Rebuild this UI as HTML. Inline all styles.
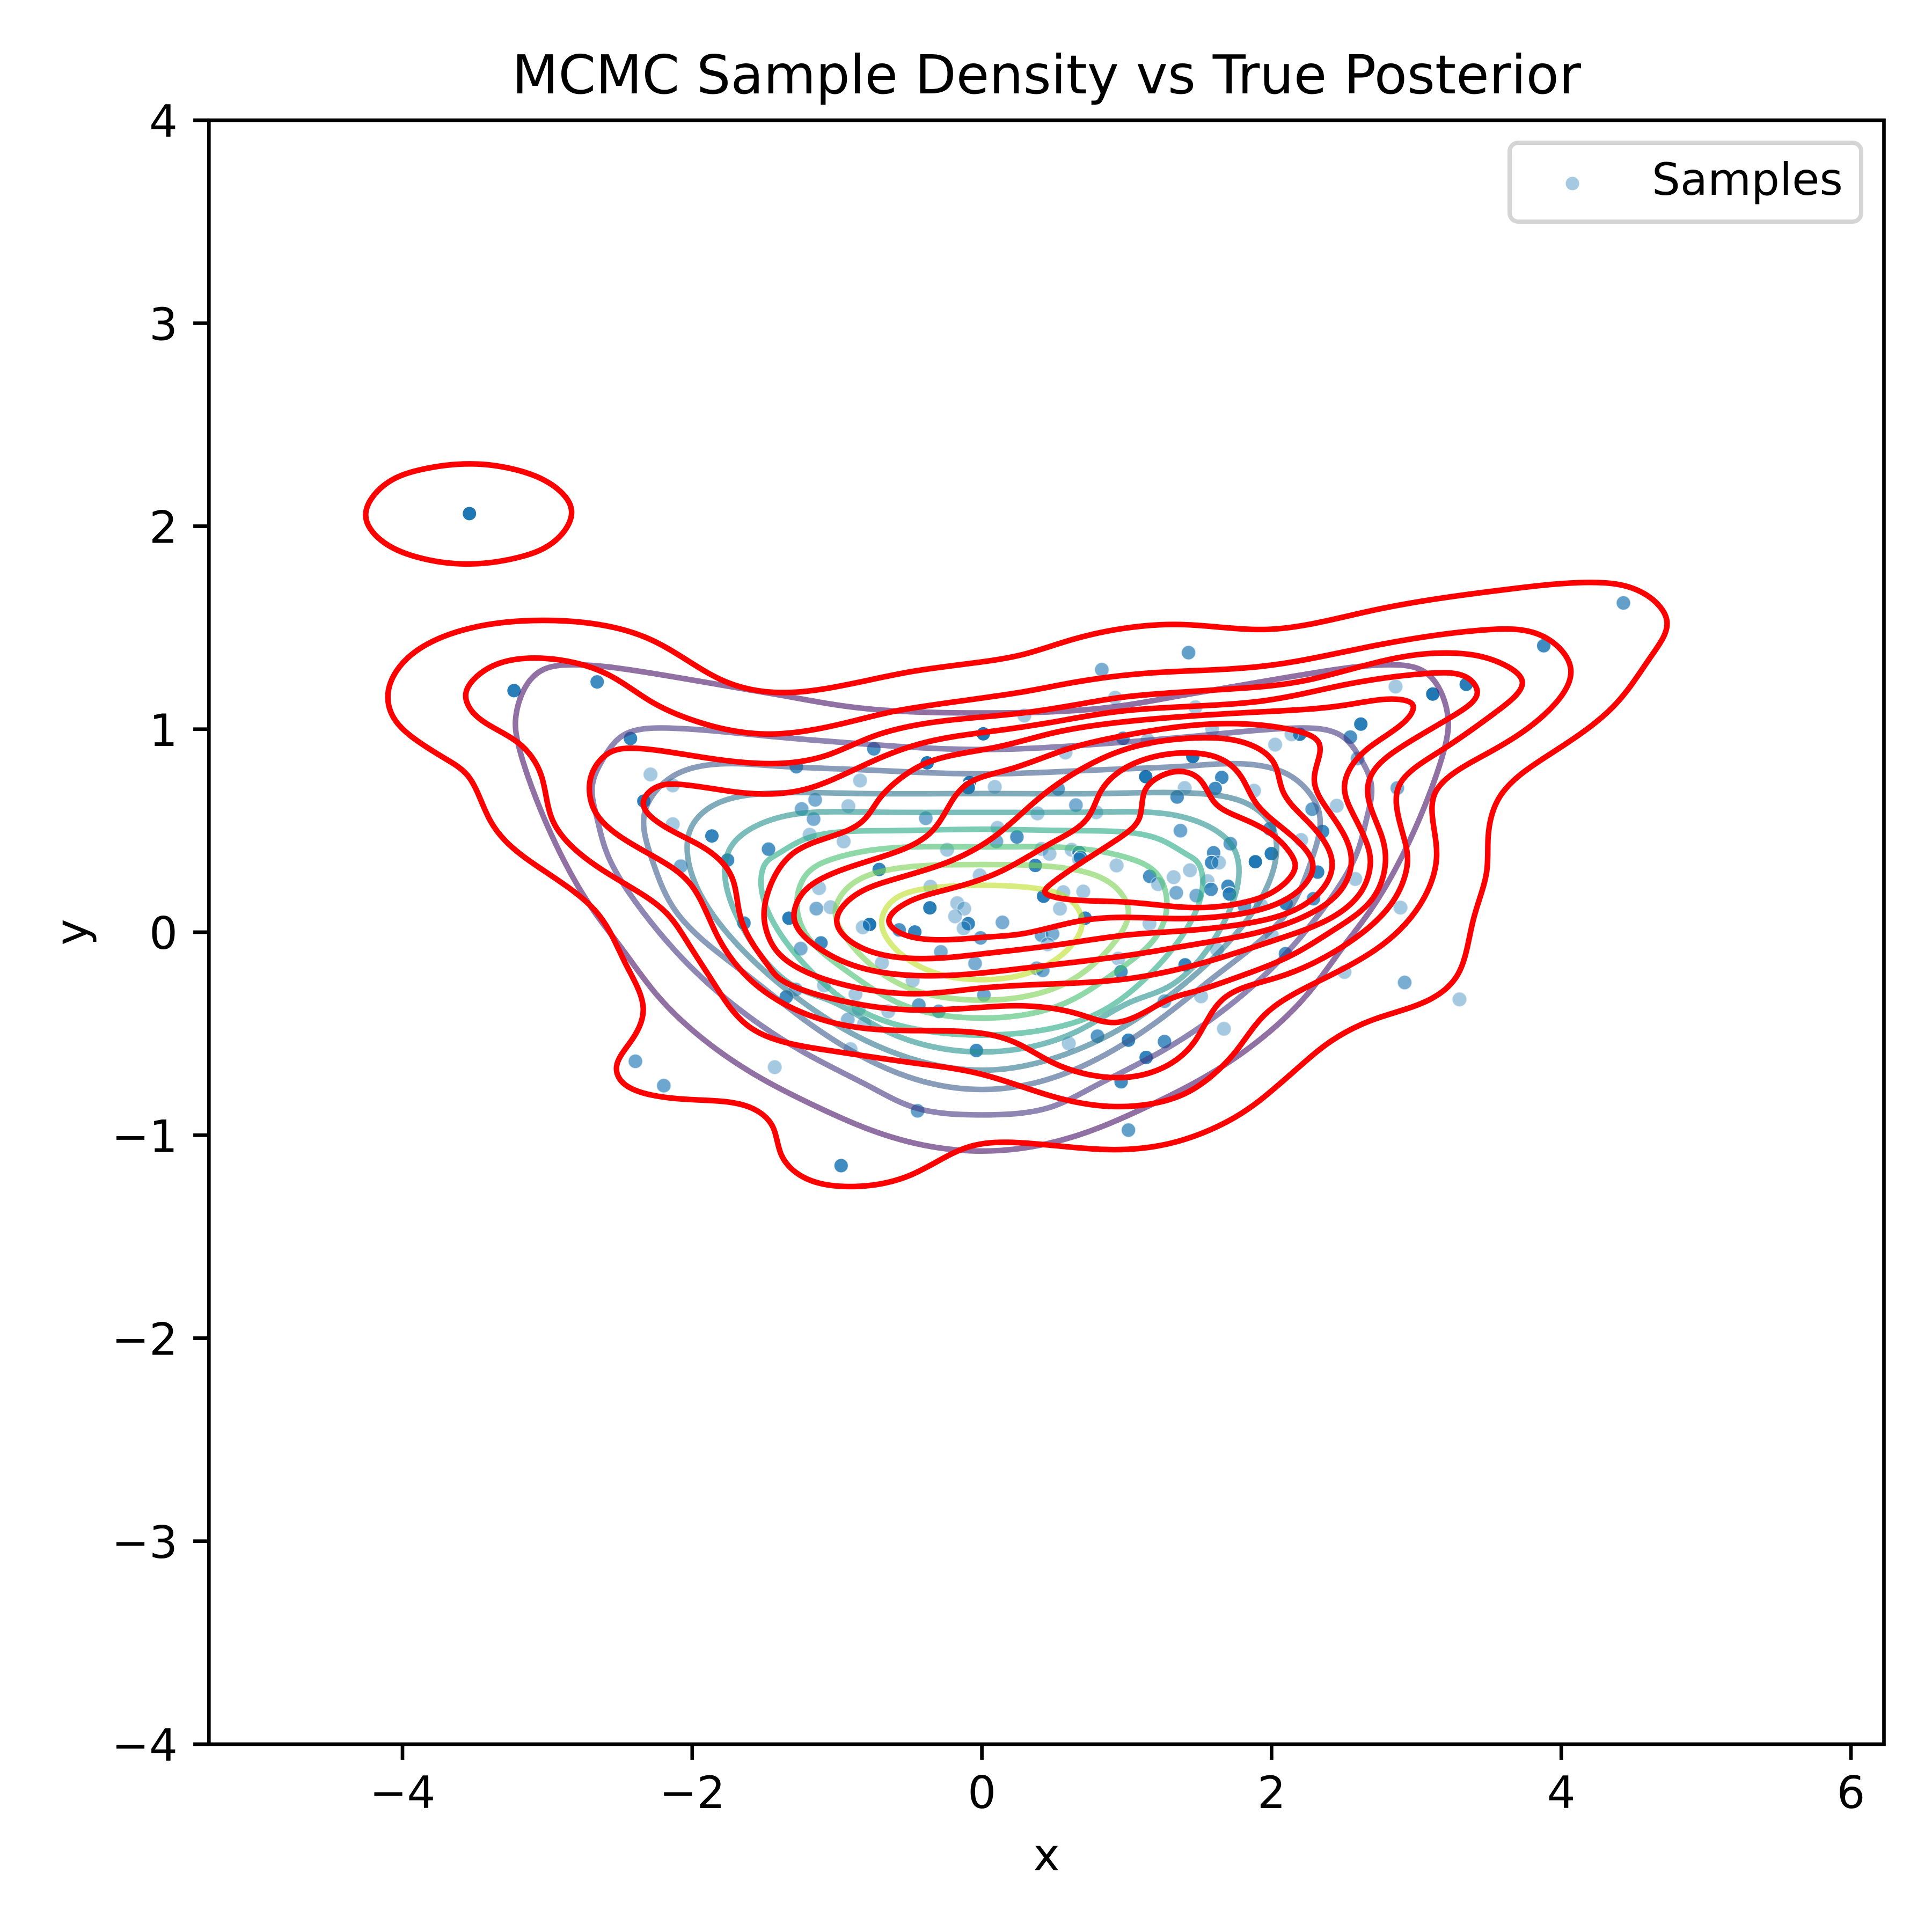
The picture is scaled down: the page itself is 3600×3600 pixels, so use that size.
<!DOCTYPE html>
<html lang="en">
<head>
<meta charset="utf-8">
<title>MCMC Sample Density vs True Posterior</title>
<style>
html,body{margin:0;padding:0;background:#fff;}
svg{display:block;}
text{font-family:"DejaVu Sans","Liberation Sans",sans-serif;fill:#000;}
</style>
</head>
<body>
<svg id="chart" xmlns="http://www.w3.org/2000/svg" width="3600" height="3600" viewBox="0 0 3600 3600">
  <rect x="0" y="0" width="3600" height="3600" fill="#fff"/>
  <rect x="389.3" y="224" width="3121.2" height="3026" fill="#fff"/>
  <g id="samples"></g>
  <g id="true-contours"></g>
  <g id="kde-contours"></g>
  <g id="ticks"></g>
  <rect x="389.3" y="224" width="3121.2" height="3026" fill="none" stroke="#000" stroke-width="6.67"/>
  <text x="1950" y="174" font-size="100" text-anchor="middle">MCMC Sample Density vs True Posterior</text>
  <text x="1950" y="3485" font-size="83.33" text-anchor="middle">x</text>
  <text x="0" y="0" font-size="83.33" text-anchor="middle" transform="translate(162 1737) rotate(-90)">y</text>
  <g>
    <rect x="2813" y="266" width="655" height="147" rx="16" ry="16" fill="#fff" fill-opacity="0.8" stroke="#d5d5d5" stroke-width="8"/>
    <circle cx="2930" cy="342" r="13.5" fill="#1f77b4" fill-opacity="0.4" stroke="#fff" stroke-width="2"/>
    <text x="3078" y="363" font-size="83.33">Samples</text>
  </g>
</svg>
<script>
const xTickValues = [-4, -2, 0, 2, 4, 6];
const xTickLabels = ['\u22124', '\u22122', '0', '2', '4', '6'];
const yTickValues = [-4, -3, -2, -1, 0, 1, 2, 3, 4];
const yTickLabels = ['\u22124', '\u22123', '\u22122', '\u22121', '0', '1', '2', '3', '4'];

const sampleX = [
  0.293, 0.01, -0.746, 1.475, 0.974, 1.144, 0.577, -0.378, -1.281, -0.841,
  -0.085, -0.094, 0.089, 1.456, 1.131, 1.4, 1.348, 0.526, -1.151, -1.244,
  -1.162, -0.922, 0.649, 0.789, 0.384, -0.387, -1.189, -0.954, 1.371, 0.108,
  0.242, 0.1, 0.412, 0.467, 0.62, 0.671, 0.681, 0.671, -0.24, 0.93,
  0.369, -0.709, -0.015, 1.159, 1.216, 1.324, 1.437, 1.342, 1.48, -1.124,
  -0.355, 0.562, 0.7, 0.426, -1.143, -1.045, -0.359, -0.17, -0.122, -0.185,
  -0.094, -0.126, 0.142, 0.539, 0.713, 1.157, -1.332, -0.775, -0.822, -0.571,
  -0.463, -0.009, 0.412, 0.488, 0.454, -1.111, -1.251, -0.283, -0.69, -0.047,
  0.378, 0.42, 0.942, 0.96, 1.403, -0.478, -1.09, -1.285, -1.351, -0.873,
  -0.85, 0.014, -0.435, -0.298, -0.646, -0.926, -0.813, 1.513, 1.261, 0.798,
  0.6, 1.012, 1.261, 1.134, -0.038, -0.907, 0.961, -0.444, -1.43, 1.012,
  2.856, 3.113, 3.344, 2.616, 2.544, 2.195, 2.138, 2.025, 2.594, 1.59,
  1.656, 1.611, 1.879, 2.868, 2.45, 2.28, 1.987, 2.352, 2.204, 1.715,
  1.6, 1.586, 1.637, 1.888, 1.998, 2.318, 2.578, 1.558, 1.699, 1.709,
  1.582, 1.813, 1.926, 2.1, 2.289, 2.89, 2.002, 2.096, 1.624, 2.503,
  2.919, 3.297, 1.671, 4.429, 3.879, 1.427, 0.828, 0.92, -3.538, -3.23,
  -2.656, -2.426, -2.288, -2.134, -2.334, -2.134, -1.864, -2.079, -1.756, -1.473,
  -1.643, -2.392, -2.196, -0.972
];
const sampleY = [
  1.067, 0.977, 0.903, 1.108, 0.955, 0.946, 0.885, 0.834, 0.815, 0.747,
  0.737, 0.712, 0.716, 0.865, 0.766, 0.71, 0.666, 0.706, 0.652, 0.607,
  0.557, 0.621, 0.626, 0.591, 0.585, 0.561, 0.48, 0.447, 0.5, 0.514,
  0.469, 0.447, 0.41, 0.386, 0.406, 0.392, 0.368, 0.359, 0.406, 0.329,
  0.329, 0.309, 0.28, 0.275, 0.237, 0.271, 0.305, 0.194, 0.18, 0.217,
  0.224, 0.197, 0.2, 0.177, 0.116, 0.123, 0.12, 0.143, 0.116, 0.078,
  0.042, 0.019, 0.048, 0.116, 0.069, 0.042, 0.069, 0.038, 0.024, 0.011,
  0.001, -0.028, -0.015, -0.008, -0.06, -0.053, -0.081, -0.097, -0.151, -0.154,
  -0.178, -0.188, -0.13, -0.195, -0.161, -0.238, -0.262, -0.282, -0.319, -0.305,
  -0.377, -0.309, -0.359, -0.39, -0.39, -0.431, -0.451, -0.316, -0.34, -0.512,
  -0.548, -0.532, -0.539, -0.617, -0.583, -0.576, -0.737, -0.88, -0.665, -0.975,
  1.21, 1.173, 1.221, 1.025, 0.961, 0.975, 0.975, 0.924, 0.856, 1.0,
  0.762, 0.708, 0.697, 0.71, 0.623, 0.606, 0.509, 0.496, 0.454, 0.436,
  0.391, 0.343, 0.343, 0.347, 0.387, 0.296, 0.262, 0.252, 0.226, 0.188,
  0.211, 0.127, 0.134, 0.141, 0.165, 0.121, -0.017, -0.106, -0.086, -0.196,
  -0.248, -0.331, -0.476, 1.622, 1.411, 1.377, 1.293, 1.155, 2.062, 1.19,
  1.233, 0.954, 0.777, 0.723, 0.646, 0.532, 0.474, 0.325, 0.355, 0.409,
  0.045, -0.636, -0.756, -1.15
];
const sampleAlpha = [
  0.4, 1, 0.8, 0.4, 0.8, 0.4, 0.4, 1, 0.8, 0.4,
  1, 1, 0.4, 1, 1, 0.4, 0.8, 0.7, 0.6, 0.6,
  0.6, 0.4, 0.6, 0.4, 0.4, 0.6, 0.4, 0.4, 0.65, 0.4,
  0.8, 0.6, 0.4, 0.4, 0.4, 0.9, 0.9, 0.4, 0.4, 0.4,
  0.9, 0.9, 0.4, 0.8, 0.4, 0.4, 0.4, 0.6, 0.6, 0.4,
  0.4, 0.4, 0.4, 0.95, 0.6, 0.4, 0.95, 0.4, 0.4, 0.4,
  0.9, 0.4, 0.6, 0.4, 0.9, 0.4, 0.95, 1, 0.4, 0.8,
  0.9, 0.7, 0.65, 0.6, 0.4, 0.85, 0.6, 0.6, 0.4, 0.6,
  0.6, 0.65, 0.4, 0.8, 0.9, 0.4, 0.4, 0.6, 0.85, 0.4,
  0.4, 0.65, 0.7, 0.7, 0.4, 0.5, 0.4, 0.4, 0.6, 0.75,
  0.4, 0.9, 0.8, 0.9, 0.85, 0.4, 0.85, 0.7, 0.4, 0.7,
  0.4, 1, 0.95, 0.95, 0.8, 0.95, 0.4, 0.4, 0.6, 0.4,
  0.85, 0.85, 0.4, 0.6, 0.4, 0.7, 0.8, 0.85, 0.4, 0.7,
  0.8, 0.85, 0.4, 1, 0.95, 0.9, 0.4, 0.4, 0.85, 0.9,
  0.8, 0.7, 0.4, 0.9, 0.8, 0.4, 0.4, 0.8, 0.4, 0.4,
  0.6, 0.4, 0.4, 0.7, 0.85, 0.7, 0.6, 0.4, 1, 0.95,
  0.85, 0.9, 0.4, 0.4, 0.95, 0.4, 0.9, 0.6, 0.85, 0.8,
  0.85, 0.65, 0.65, 0.85
];

const trueColors = ['#471365', '#453581', '#3a5a8c', '#2c738e', '#21918c', '#24aa83', '#44bf70', '#7ad151', '#bddf26'];

const trueLevel0 = [[0,-1.078],[-0.62,-1.01],[-1.106,-0.871],[-1.54,-0.713],[-1.906,-0.537],[-2.246,-0.307],[-2.49,-0.076],[-2.675,0.1],[-2.994,0.515],[-3.21,0.956],[-3.22,1.04],[-3.165,1.19],[-3.03,1.293],[-2.78,1.317],[-2.595,1.308],[-1.98,1.24],[-1.37,1.165],[-0.85,1.105],[0,1.08],[0.85,1.105],[1.37,1.165],[1.98,1.24],[2.595,1.308],[2.78,1.317],[3.03,1.293],[3.165,1.19],[3.22,1.04],[3.21,0.956],[2.994,0.515],[2.675,0.1],[2.49,-0.076],[2.246,-0.307],[1.906,-0.537],[1.54,-0.713],[1.106,-0.871],[0.62,-1.01]];
const trueLevel1 = [[0,-0.9],[-0.46,-0.865],[-0.77,-0.762],[-1.233,-0.59],[-1.72,-0.355],[-2.06,-0.135],[-2.34,0.1],[-2.586,0.385],[-2.66,0.57],[-2.69,0.72],[-2.61,0.86],[-2.476,0.97],[-2.135,1.005],[-1.505,0.968],[-0.85,0.929],[0,0.9],[0.85,0.929],[1.505,0.968],[2.135,1.005],[2.476,0.97],[2.61,0.86],[2.69,0.72],[2.66,0.57],[2.586,0.385],[2.34,0.1],[2.06,-0.135],[1.72,-0.355],[1.233,-0.59],[0.77,-0.762],[0.46,-0.865]];
const trueLevel2 = [[0,-0.775],[-0.62,-0.683],[-1.233,-0.428],[-1.628,-0.207],[-2.11,0.1],[-2.27,0.343],[-2.334,0.515],[-2.317,0.616],[-2.135,0.768],[-1.77,0.83],[-1.408,0.818],[-0.825,0.8],[0,0.78],[0.825,0.8],[1.408,0.818],[1.77,0.83],[2.135,0.768],[2.317,0.616],[2.334,0.515],[2.27,0.343],[2.11,0.1],[1.628,-0.207],[1.233,-0.428],[0.62,-0.683]];
const trueLevel3 = [[0,-0.68],[-0.62,-0.59],[-1.25,-0.337],[-1.94,0.182],[-2.035,0.42],[-2.0,0.525],[-1.846,0.628],[-1.42,0.686],[-0.825,0.683],[0,0.683],[0.825,0.683],[1.42,0.686],[1.846,0.628],[2.0,0.525],[2.035,0.42],[1.94,0.182],[1.25,-0.337],[0.62,-0.59]];
const trueLevel4 = [[0,-0.59],[-0.655,-0.489],[-1.03,-0.343],[-1.3,-0.264],[-1.66,0.033],[-1.775,0.295],[-1.745,0.404],[-1.66,0.478],[-1.374,0.57],[-0.825,0.592],[0,0.59],[0.825,0.592],[1.374,0.57],[1.66,0.478],[1.745,0.404],[1.775,0.295],[1.66,0.033],[1.3,-0.264],[1.03,-0.343],[0.655,-0.489]];
const trueLevel5 = [[0,-0.507],[-0.46,-0.477],[-0.84,-0.385],[-1.165,-0.203],[-1.408,0.01],[-1.523,0.222],[-1.49,0.343],[-1.408,0.386],[-1.218,0.46],[-0.655,0.5],[0,0.507],[0.655,0.5],[1.218,0.46],[1.408,0.386],[1.49,0.343],[1.523,0.222],[1.408,0.01],[1.165,-0.203],[0.84,-0.385],[0.46,-0.477]];
const trueLevel6 = [[0,-0.423],[-0.555,-0.355],[-0.936,-0.19],[-1.217,-0.007],[-1.276,0.163],[-1.2,0.294],[-1.03,0.361],[-0.655,0.413],[0,0.42],[0.655,0.413],[1.03,0.361],[1.2,0.294],[1.276,0.163],[1.217,-0.007],[0.936,-0.19],[0.555,-0.355]];
const trueLevel7 = [[0,-0.335],[-0.368,-0.306],[-0.655,-0.22],[-0.936,-0.03],[-1.012,0.103],[-0.919,0.224],[-0.655,0.306],[0,0.333],[0.655,0.306],[0.919,0.224],[1.012,0.103],[0.936,-0.03],[0.655,-0.22],[0.368,-0.306]];
const trueLevel8 = [[0,-0.234],[-0.349,-0.194],[-0.613,-0.07],[-0.692,0.05],[-0.613,0.157],[-0.349,0.218],[0,0.231],[0.349,0.218],[0.613,0.157],[0.692,0.05],[0.613,-0.07],[0.349,-0.194]];

const kdeIsland = [[-4.254,2.054],[-4.127,2.202],[-3.877,2.278],[-3.517,2.307],[-3.217,2.278],[-2.96,2.2],[-2.833,2.076],[-2.94,1.932],[-3.19,1.848],[-3.563,1.814],[-3.9,1.848],[-4.15,1.932]];
const kdeLevel0 = [[-4.1,1.175],[-4.0,1.325],[-3.67,1.469],[-3.04,1.536],[-2.288,1.442],[-1.795,1.242],[-1.327,1.181],[-0.476,1.285],[0.26,1.364],[0.63,1.443],[1.335,1.516],[1.98,1.492],[2.717,1.588],[3.639,1.69],[4.192,1.723],[4.56,1.673],[4.73,1.529],[4.622,1.361],[4.376,1.124],[3.946,0.888],[3.577,0.669],[3.495,0.467],[3.485,0.298],[3.393,0.062],[3.286,-0.208],[3.086,-0.334],[2.717,-0.427],[2.41,-0.537],[2.164,-0.68],[1.918,-0.829],[1.742,-0.914],[1.38,-1.025],[0.888,-1.071],[0.182,-1.035],[-0.126,-1.066],[-0.494,-1.197],[-0.924,-1.253],[-1.232,-1.207],[-1.385,-1.096],[-1.447,-0.954],[-1.6,-0.863],[-1.908,-0.828],[-2.276,-0.803],[-2.491,-0.732],[-2.522,-0.661],[-2.415,-0.529],[-2.338,-0.378],[-2.46,-0.155],[-2.66,0.098],[-3.148,0.364],[-3.394,0.549],[-3.547,0.769],[-3.7,0.853],[-3.92,0.954],[-4.06,1.055]];
const kdeLevel1 = [[-3.563,1.173],[-3.49,1.258],[-3.33,1.325],[-3.025,1.349],[-2.595,1.274],[-2.288,1.138],[-1.982,1.041],[-1.458,0.976],[-0.851,1.047],[-0.592,1.09],[0.26,1.181],[0.63,1.23],[1.182,1.278],[1.948,1.311],[2.714,1.412],[3.488,1.49],[3.884,1.454],[4.066,1.293],[3.913,1.092],[3.488,0.88],[3.131,0.689],[3.113,0.552],[3.139,0.367],[3.02,0.13],[2.714,-0.088],[2.229,-0.276],[1.948,-0.41],[1.761,-0.58],[1.6,-0.7],[1.378,-0.803],[0.919,-0.859],[0.459,-0.803],[0,-0.7],[-0.463,-0.645],[-1.08,-0.58],[-1.6,-0.469],[-1.846,-0.257],[-2.03,-0.052],[-2.186,0.1],[-2.595,0.295],[-2.963,0.55],[-3.04,0.768],[-3.21,0.938],[-3.5,1.072]];
const kdeLevel2 = [[-2.709,0.691],[-2.685,0.793],[-2.567,0.886],[-2.366,0.905],[-1.894,0.858],[-1.408,0.831],[-1.068,0.872],[-0.746,0.966],[-0.274,1.04],[0.293,1.081],[0.766,1.135],[1.0,1.16],[1.756,1.2],[2.256,1.243],[2.871,1.352],[3.285,1.374],[3.578,1.327],[3.731,1.234],[3.552,1.086],[3.174,0.897],[2.89,0.735],[2.862,0.627],[2.928,0.424],[2.938,0.343],[2.853,0.168],[2.512,-0.061],[2.04,-0.223],[1.662,-0.331],[1.473,-0.534],[1.284,-0.655],[1.012,-0.714],[0.728,-0.7],[0.482,-0.64],[0.256,-0.552],[0,-0.498],[-0.746,-0.478],[-1.162,-0.417],[-1.408,-0.336],[-1.61,-0.227],[-1.823,-0.023],[-2.012,0.237],[-2.295,0.385],[-2.65,0.571]];
const kdeLevel3 = [[-2.338,0.636],[-2.26,0.71],[-2.083,0.728],[-1.705,0.691],[-1.421,0.682],[-1.162,0.716],[-0.746,0.845],[-0.368,0.939],[0.104,0.993],[0.482,1.034],[1.0,1.092],[1.945,1.14],[2.512,1.22],[3.08,1.275],[3.363,1.248],[3.42,1.18],[3.268,1.072],[2.89,0.91],[2.7,0.789],[2.664,0.681],[2.758,0.478],[2.786,0.343],[2.7,0.168],[2.418,0.006],[2.134,-0.115],[1.756,-0.224],[1.473,-0.291],[1.295,-0.33],[0.936,-0.444],[0.671,-0.404],[0.293,-0.363],[0,-0.37],[-0.463,-0.383],[-0.935,-0.343],[-1.408,-0.222],[-1.468,-0.172],[-1.657,0.051],[-1.728,0.274],[-1.893,0.404],[-2.13,0.496]];
const kdeLevel4 = [[-1.504,0.097],[-1.445,0.255],[-1.295,0.393],[-1.03,0.474],[-0.822,0.548],[-0.709,0.656],[-0.576,0.75],[-0.368,0.838],[0.104,0.912],[0.482,0.98],[1.0,1.038],[1.945,1.086],[2.512,1.119],[2.89,1.146],[2.975,1.119],[2.966,1.079],[2.7,0.924],[2.55,0.816],[2.503,0.708],[2.569,0.573],[2.664,0.424],[2.682,0.343],[2.626,0.208],[2.418,0.073],[2.04,-0.035],[1.567,-0.143],[1.0,-0.23],[0.482,-0.255],[0,-0.275],[-0.387,-0.302],[-0.935,-0.262],[-1.408,-0.1],[-1.49,0.014]];
const kdeLevel5 = [[-1.295,0.062],[-1.247,0.183],[-1.106,0.264],[-0.746,0.359],[-0.349,0.494],[-0.198,0.656],[-0.085,0.737],[0.198,0.804],[0.577,0.899],[1.0,0.971],[1.567,1.025],[2.134,0.998],[2.323,0.937],[2.333,0.883],[2.295,0.748],[2.418,0.573],[2.55,0.37],[2.493,0.222],[2.323,0.114],[1.945,0.006],[1.567,-0.048],[1.0,-0.115],[0.482,-0.161],[0,-0.201],[-0.387,-0.215],[-0.841,-0.174],[-1.162,-0.06]];
const kdeLevel6 = [[-1.002,0.055],[-0.898,0.17],[-0.652,0.251],[-0.236,0.345],[0.104,0.48],[0.388,0.656],[0.671,0.797],[1.0,0.903],[1.473,0.957],[1.851,0.924],[2.02,0.829],[2.078,0.694],[2.285,0.519],[2.418,0.343],[2.361,0.222],[2.172,0.114],[1.851,0.046],[1.378,0.006],[1.0,-0.014],[0.482,-0.066],[0,-0.107],[-0.274,-0.127],[-0.841,-0.073]];
const kdeLevel7 = [[-0.642,0.055],[-0.557,0.129],[-0.274,0.204],[0.104,0.291],[0.482,0.44],[0.728,0.561],[0.823,0.696],[1.012,0.818],[1.378,0.883],[1.662,0.849],[1.794,0.762],[1.888,0.64],[2.134,0.478],[2.285,0.33],[2.229,0.235],[2.04,0.141],[1.756,0.087],[1.378,0.067],[1.0,0.073],[0.671,0.055],[0.293,-0.006],[0,-0.026],[-0.557,-0.006]];
const kdeLevel8 = [[0.435,0.197],[0.501,0.251],[0.955,0.467],[1.087,0.562],[1.125,0.696],[1.238,0.77],[1.39,0.791],[1.51,0.748],[1.605,0.64],[1.756,0.573],[1.983,0.492],[2.134,0.384],[2.163,0.323],[2.059,0.222],[1.851,0.154],[1.473,0.121],[1.0,0.148],[0.482,0.177]];

const SVG_NS = 'http://www.w3.org/2000/svg';

function xScale(v) {
  return 1829.6 + v * 269.9;
}
function yScale(v) {
  return 1737 - v * 378.25;
}

function closedSmoothPath(points) {
  const pts = points.map(function (p) { return [xScale(p[0]), yScale(p[1])]; });
  const n = pts.length;
  const h = pts.map(function (p, i) {
    const q = pts[(i + 1) % n];
    return Math.pow(Math.hypot(q[0] - p[0], q[1] - p[1]), 0.75);
  });
  const m = pts.map(function () { return [0, 0]; });
  for (let iter = 0; iter < 60; iter++) {
    for (let i = 0; i < n; i++) {
      const a = (i - 1 + n) % n;
      const b = (i + 1) % n;
      for (let k = 0; k < 2; k++) {
        const rhs = 3 * (h[i] * (pts[i][k] - pts[a][k]) / h[a] + h[a] * (pts[b][k] - pts[i][k]) / h[i]);
        m[i][k] = (rhs - h[i] * m[a][k] - h[a] * m[b][k]) / (2 * (h[a] + h[i]));
      }
    }
  }
  let d = 'M' + pts[0][0].toFixed(1) + ' ' + pts[0][1].toFixed(1);
  for (let i = 0; i < n; i++) {
    const j = (i + 1) % n;
    const c1x = pts[i][0] + m[i][0] * h[i] / 3;
    const c1y = pts[i][1] + m[i][1] * h[i] / 3;
    const c2x = pts[j][0] - m[j][0] * h[i] / 3;
    const c2y = pts[j][1] - m[j][1] * h[i] / 3;
    d += 'C' + c1x.toFixed(1) + ' ' + c1y.toFixed(1) + ' ' + c2x.toFixed(1) + ' ' + c2y.toFixed(1) + ' ' + pts[j][0].toFixed(1) + ' ' + pts[j][1].toFixed(1);
  }
  return d + 'Z';
}

const samplesGroup = document.getElementById('samples');
for (let i = 0; i < sampleX.length; i++) {
  const dot = document.createElementNS(SVG_NS, 'circle');
  
  
  dot.setAttribute('cx', xScale(sampleX[i]).toFixed(1));
  dot.setAttribute('cy', yScale(sampleY[i]).toFixed(1));
  dot.setAttribute('r', '13.5');
  dot.setAttribute('fill', '#1f77b4');
  dot.setAttribute('fill-opacity', sampleAlpha[i]);
  dot.setAttribute('stroke', '#fff');
  dot.setAttribute('stroke-width', '2');
  dot.setAttribute('stroke-opacity', sampleAlpha[i]);
  samplesGroup.appendChild(dot);
}

const trueLevels = [trueLevel0, trueLevel1, trueLevel2, trueLevel3, trueLevel4, trueLevel5, trueLevel6, trueLevel7, trueLevel8];
const trueGroup = document.getElementById('true-contours');
trueLevels.forEach(function (level, i) {
  const line = document.createElementNS(SVG_NS, 'path');
  
  
  line.setAttribute('d', closedSmoothPath(level));
  line.setAttribute('fill', 'none');
  line.setAttribute('stroke', trueColors[i]);
  line.setAttribute('stroke-opacity', '0.6');
  line.setAttribute('stroke-width', '10.4');
  trueGroup.appendChild(line);
});

const kdeLevels = [kdeIsland, kdeLevel0, kdeLevel1, kdeLevel2, kdeLevel3, kdeLevel4, kdeLevel5, kdeLevel6, kdeLevel7, kdeLevel8];
const kdeGroup = document.getElementById('kde-contours');
kdeLevels.forEach(function (level) {
  const line = document.createElementNS(SVG_NS, 'path');
  
  
  line.setAttribute('d', closedSmoothPath(level));
  line.setAttribute('fill', 'none');
  line.setAttribute('stroke', '#ff0000');
  line.setAttribute('stroke-width', '10.4');
  kdeGroup.appendChild(line);
});

const ticksGroup = document.getElementById('ticks');
xTickValues.forEach(function (v, i) {
  const mark = document.createElementNS(SVG_NS, 'line');
  
  
  mark.setAttribute('x1', xScale(v));
  mark.setAttribute('x2', xScale(v));
  mark.setAttribute('y1', '3250');
  mark.setAttribute('y2', '3279.2');
  mark.setAttribute('stroke', '#000');
  mark.setAttribute('stroke-width', '6.67');
  ticksGroup.appendChild(mark);
  const label = document.createElementNS(SVG_NS, 'text');
  
  
  label.setAttribute('x', xScale(v));
  label.setAttribute('y', '3369');
  label.setAttribute('font-size', '83.33');
  label.setAttribute('text-anchor', 'middle');
  label.textContent = xTickLabels[i];
  ticksGroup.appendChild(label);
});
yTickValues.forEach(function (v, i) {
  const mark = document.createElementNS(SVG_NS, 'line');
  
  
  mark.setAttribute('x1', '360.1');
  mark.setAttribute('x2', '389.3');
  mark.setAttribute('y1', yScale(v));
  mark.setAttribute('y2', yScale(v));
  mark.setAttribute('stroke', '#000');
  mark.setAttribute('stroke-width', '6.67');
  ticksGroup.appendChild(mark);
  const label = document.createElementNS(SVG_NS, 'text');
  
  
  label.setAttribute('x', '331');
  label.setAttribute('y', yScale(v) + 31);
  label.setAttribute('font-size', '83.33');
  label.setAttribute('text-anchor', 'end');
  label.textContent = yTickLabels[i];
  ticksGroup.appendChild(label);
});
</script>
</body>
</html>
